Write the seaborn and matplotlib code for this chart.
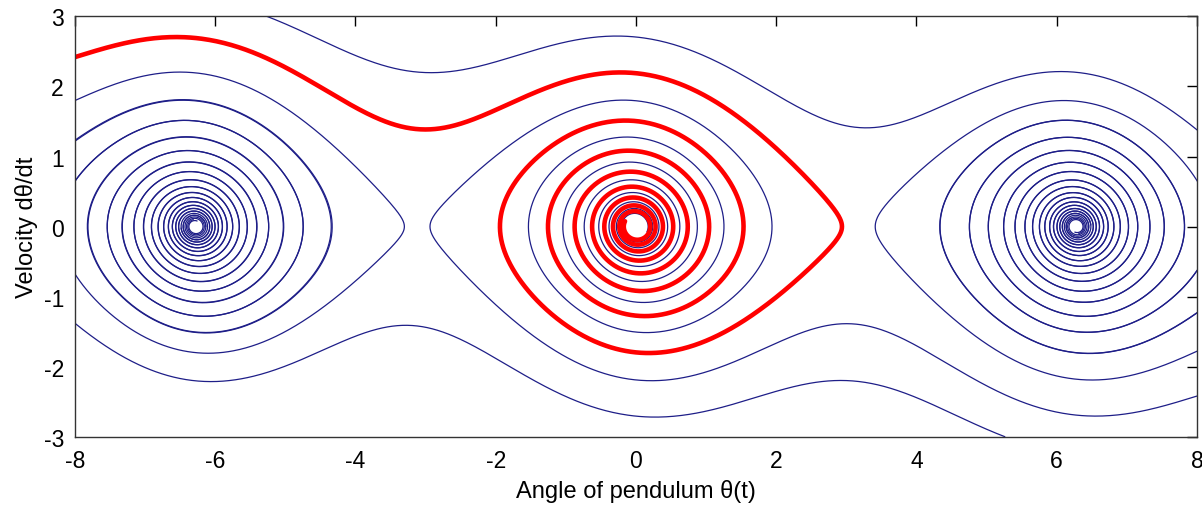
import numpy as np
import matplotlib
matplotlib.use("Agg")
import matplotlib.pyplot as plt
import seaborn as sns

# ---- data ----
damping = 0.1          # friction coefficient of the pendulum
gravity = 1.0          # g/L
duration = 60.0        # simulated time for each trajectory
red_start_theta = [-8.0]
red_start_vel = [2.42]
blue_start_theta = [-8.0, -8.0, -8.0, 8.0, 8.0, 8.0, 8.0, -5.26, 5.26]
blue_start_vel = [1.80, 1.22, 0.65, -2.42, -1.78, -1.23, -0.63, 3.0, -3.0]
x_ticks = [-8, -6, -4, -2, 0, 2, 4, 6, 8]
y_ticks = [-3, -2, -1, 0, 1, 2, 3]


def trajectory(th0, v0, b=damping, k=gravity, T=duration, dt=0.01):
    n = int(T / dt)
    th = np.empty(n + 1)
    v = np.empty(n + 1)
    th[0], v[0] = th0, v0

    def f(a, w):
        return w, -b * w - k * np.sin(a)

    for i in range(n):
        a, w = th[i], v[i]
        k1 = f(a, w)
        k2 = f(a + dt / 2 * k1[0], w + dt / 2 * k1[1])
        k3 = f(a + dt / 2 * k2[0], w + dt / 2 * k2[1])
        k4 = f(a + dt * k3[0], w + dt * k3[1])
        th[i + 1] = a + dt / 6 * (k1[0] + 2 * k2[0] + 2 * k3[0] + k4[0])
        v[i + 1] = w + dt / 6 * (k1[1] + 2 * k2[1] + 2 * k3[1] + k4[1])
    return th, v


sns.set_theme(style="white")
plt.rcParams["font.family"] = ["Liberation Sans", "DejaVu Sans"]
plt.rcParams["axes.unicode_minus"] = False

fig = plt.figure(figsize=(12.02, 5.06), dpi=100)
ax = fig.add_axes([0.0624, 0.135, 0.9334, 0.8305])

for t0, v0 in zip(blue_start_theta, blue_start_vel):
    th, v = trajectory(t0, v0)
    sns.lineplot(x=th, y=v, sort=False, estimator=None, ax=ax,
                 color="#1e1e88", linewidth=0.9)
for t0, v0 in zip(red_start_theta, red_start_vel):
    th, v = trajectory(t0, v0)
    sns.lineplot(x=th, y=v, sort=False, estimator=None, ax=ax,
                 color="#ff0000", linewidth=3.3)

ax.set_xlim(-8, 8)
ax.set_ylim(-3, 3)
ax.set_xticks(x_ticks)
ax.set_yticks(y_ticks)
ax.tick_params(direction="in", length=7, width=1, top=True, right=True,
               labelsize=16.5, colors="black")
ax.tick_params(axis="x", pad=9)
ax.tick_params(axis="y", pad=8)
for s in ax.spines.values():
    s.set_visible(True)
    s.set_color("#333333")
    s.set_linewidth(1)
ax.set_xlabel("Angle of pendulum θ(t)", fontsize=17, color="black", labelpad=5)
ax.set_ylabel("Velocity dθ/dt", fontsize=17, color="black", labelpad=4)
ax.grid(False)

fig.savefig("out.png", dpi=100, facecolor="white")
